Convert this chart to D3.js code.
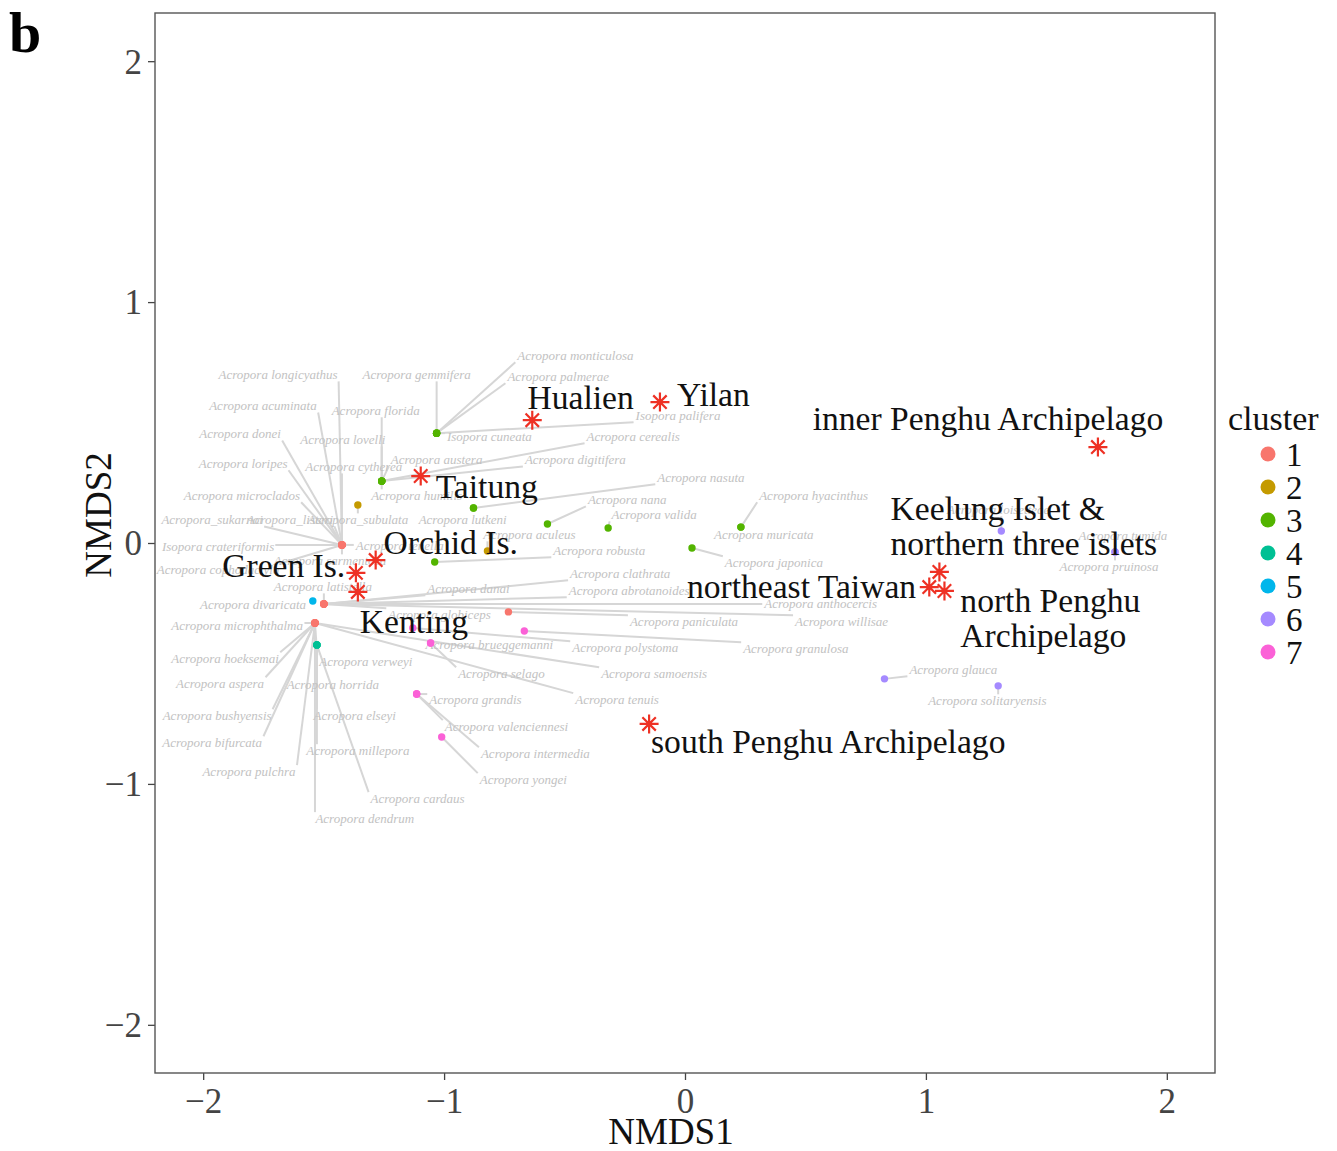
<!DOCTYPE html>
<html><head><meta charset="utf-8">
<script src="https://cdn.jsdelivr.net/npm/d3@7"></script>
<style>body{margin:0;background:#fff}</style>
</head><body><svg id="c" width="1337" height="1151"></svg>
<script>
// ---------- DATA ----------
const clusterIds = ["1","2","3","4","5","6","7"];
const clusterColors = ["#F8766D","#C49A00","#53B400","#00C094","#00B6EB","#A58AFF","#FB61D7"];
const xTicks = [-2,-1,0,1,2];
const yTicks = [-2,-1,0,1,2];

const speciesNames = [
 "Acropora longicyathus","Acropora gemmifera","Acropora monticulosa","Acropora palmerae","Acropora acuminata",
 "Acropora florida","Acropora donei","Acropora lovelli","Isopora cuneata","Acropora cerealis",
 "Acropora loripes","Acropora cytherea","Acropora austera","Acropora digitifera","Acropora nasuta",
 "Acropora microclados","Acropora humilis","Acropora hyacinthus","Acropora nana","Acropora valida",
 "Acropora_sukarnoi","Acropora_listeri","Acropora_subulata","Acropora lutkeni","Isopora crateriformis",
 "Acropora tenella","Acropora aculeus","Acropora muricata","Acropora sarmentosa","Acropora cophodactyla",
 "Acropora robusta","Acropora japonica","Acropora pruinosa","Acropora tumida","Acropora clathrata",
 "Acropora latistella","Acropora danai","Acropora abrotanoides","Acropora anthocercis","Acropora divaricata",
 "Acropora globiceps","Acropora paniculata","Acropora willisae","Acropora microphthalma","Acropora brueggemanni",
 "Acropora polystoma","Acropora granulosa","Acropora hoeksemai","Acropora verweyi","Acropora selago",
 "Acropora samoensis","Acropora glauca","Acropora aspera","Acropora horrida","Acropora grandis",
 "Acropora tenuis","Acropora solitaryensis","Acropora bushyensis","Acropora elseyi","Acropora valenciennesi",
 "Acropora bifurcata","Acropora millepora","Acropora intermedia","Acropora pulchra","Acropora yongei",
 "Acropora cardaus","Acropora dendrum","Isopora palifera","Acropora loisetteae"
];
const speciesCluster = [
 1,3,3,3,1, 3,1,3,3,3, 1,1,3,3,3, 1,3,3,3,3, 1,1,2,3,1, 1,2,3,1,1, 3,3,6,6,1,
 1,1,1,1,5, 1,1,1,1,7, 7,7,1,1,7, 1,6,1,4,7, 1,6,1,4,7, 1,4,7,1,7, 4,1,3,6
];
const speciesX = [
 -1.424,-1.031,-1.031,-1.031,-1.424, -1.259,-1.424,-1.259,-1.031,-1.259,
 -1.424,-1.424,-1.259,-1.259,-0.878, -1.424,-1.259,0.232,-0.571,-0.319,
 -1.424,-1.424,-1.358,-0.878,-1.424, -1.424,-0.820,0.232,-1.424,-1.424,
 -1.039,0.029,1.785,1.785,-1.499, -1.499,-1.499,-1.499,-1.499,-1.545,
 -1.499,-0.733,-1.499,-1.536,-1.056, -1.130,-0.667,-1.536,-1.536,-1.056,
 -1.536,0.828,-1.536,-1.528,-1.114, -1.536,1.300,-1.536,-1.528,-1.114,
 -1.536,-1.528,-1.114,-1.536,-1.010, -1.528,-1.536,-1.031,1.313
];
const speciesY = [
 -0.008,0.456,0.456,0.456,-0.008, 0.257,-0.008,0.257,0.456,0.257,
 -0.008,-0.008,0.257,0.257,0.145, -0.008,0.257,0.066,0.079,0.062,
 -0.008,-0.008,0.158,0.145,-0.008, -0.008,-0.033,0.066,-0.008,-0.008,
 -0.079,-0.021,-0.037,-0.037,-0.253, -0.253,-0.253,-0.253,-0.253,-0.241,
 -0.253,-0.286,-0.253,-0.332,-0.415, -0.353,-0.365,-0.332,-0.332,-0.415,
 -0.332,-0.564,-0.332,-0.423,-0.627, -0.332,-0.593,-0.332,-0.423,-0.627,
 -0.332,-0.423,-0.627,-0.332,-0.805, -0.423,-0.332,0.456,0.050
];
// repelled label centres (NMDS units)
const labelX = [
 -1.689,-1.114,-0.455,-0.526,-1.752, -1.284,-1.847,-1.420,-0.812,-0.215,
 -1.834,-1.375,-1.031,-0.455,0.066, -1.839,-1.114,0.534,-0.240,-0.128,
 -1.963,-1.640,-1.358,-0.923,-1.938, -1.184,-0.646,0.327,-1.474,-1.938,
 -0.356,0.369,1.760,1.818,-0.269, -1.503,-0.899,-0.232,0.563,-1.793,
 -1.019,-0.004,0.650,-1.859,-0.812, -0.248,0.460,-1.909,-1.325,-0.762,
 -0.128,1.114,-1.930,-1.462,-0.870, -0.282,1.255,-1.942,-1.371,-0.741,
 -1.963,-1.358,-0.621,-1.810,-0.671, -1.110,-1.329,-0.029,1.300
];
const labelY = [
 0.697,0.697,0.776,0.689,0.568, 0.548,0.452,0.427,0.440,0.440,
 0.328,0.315,0.344,0.344,0.270, 0.195,0.195,0.195,0.178,0.116,
 0.095,0.095,0.095,0.095,-0.017, -0.012,0.033,0.033,-0.075,-0.112,
 -0.033,-0.083,-0.100,0.029,-0.129, -0.183,-0.191,-0.199,-0.253,-0.257,
 -0.299,-0.328,-0.328,-0.344,-0.423, -0.436,-0.440,-0.481,-0.494,-0.544,
 -0.544,-0.527,-0.585,-0.589,-0.651, -0.651,-0.656,-0.718,-0.718,-0.763,
 -0.830,-0.863,-0.876,-0.950,-0.983, -1.062,-1.145,0.527,0.137
];

const siteNames = ["Hualien","Yilan","inner Penghu Archipelago","Taitung","Orchid Is.","Green Is.","Kenting",
 "south Penghu Archipelago","northeast Taiwan","Keelung Islet &\nnorthern three islets","north Penghu\nArchipelago"];
const siteX = [-0.634,-0.104,1.714,-1.097,-1.284,-1.366,-1.358,-0.149,1.014,1.056,1.077];
const siteY = [0.510,0.585,0.398,0.278,-0.071,-0.124,-0.203,-0.751,-0.183,-0.120,-0.199];
const siteLabelX = [-0.654,-0.033,0.530,-1.035,-1.251,-1.921,-1.350,-0.141,0.008,0.853,1.143];
const siteLabelY = [0.602,0.614,0.515,0.232,0.000,-0.095,-0.328,-0.826,-0.183,0.068,-0.313];

// ---------- CHART ----------
const svg = d3.select("#c");
const P = {l:155, r:1215, t:13, b:1073};
const x = d3.scaleLinear().domain([-2.2,2.2]).range([P.l,P.r]);
const y = d3.scaleLinear().domain([-2.2,2.2]).range([P.b,P.t]);
const color = d3.scaleOrdinal().domain(clusterIds).range(clusterColors);
const serif = "'Liberation Serif','Times New Roman',serif";

svg.append("rect").attr("width",1337).attr("height",1151).attr("fill","#fff");

// axes
const fmt = d=>d<0?"\u2212"+Math.abs(d):String(d);
const xAxis = svg.append("g").attr("transform",`translate(0,${P.b})`)
  .call(d3.axisBottom(x).tickValues(xTicks).tickSize(7).tickPadding(6).tickFormat(fmt));
const yAxis = svg.append("g").attr("transform",`translate(${P.l},0)`)
  .call(d3.axisLeft(y).tickValues(yTicks).tickSize(7).tickPadding(6).tickFormat(fmt));
[xAxis,yAxis].forEach(g=>{
  g.select(".domain").remove();
  g.selectAll(".tick line").attr("stroke","#444").attr("stroke-width",1.3);
  g.selectAll(".tick text").attr("font-family",serif).attr("font-size",35).attr("fill","#444");
});
xAxis.selectAll(".tick text").attr("dy","0.78em");
yAxis.selectAll(".tick text").attr("dy","0.34em");

// panel border
svg.append("rect").attr("x",P.l).attr("y",P.t).attr("width",P.r-P.l).attr("height",P.b-P.t)
  .attr("fill","none").attr("stroke","#555").attr("stroke-width",1.4);

// species labels and segments
const species = speciesNames.map((n,i)=>({name:n,cluster:String(speciesCluster[i]),x:speciesX[i],y:speciesY[i],lx:labelX[i],ly:labelY[i]}));
const segG = svg.append("g");
const labG = svg.append("g");
species.forEach(s=>{
  const t = labG.append("text").attr("x",x(s.lx)).attr("y",y(s.ly)).attr("dy","0.33em")
    .attr("text-anchor","middle").attr("font-family",serif).attr("font-style","italic")
    .attr("font-size",13).attr("fill","#c2c2c2").text(s.name);
  const bb = t.node().getBBox();
  const px = x(s.x), py = y(s.y);
  const x0 = bb.x-1, x1 = bb.x+bb.width+1, y0 = bb.y+1, y1 = bb.y+bb.height-1;
  const cx = Math.max(x0, Math.min(px, x1)), cy = Math.max(y0, Math.min(py, y1));
  const d = Math.hypot(cx-px, cy-py);
  if (d > 6) {
    segG.append("line").attr("x1",px).attr("y1",py).attr("x2",cx).attr("y2",cy)
      .attr("stroke","#d6d6d6").attr("stroke-width",2);
  }
});

// species points
svg.append("g").selectAll("circle").data(species).join("circle")
  .attr("cx",d=>x(d.x)).attr("cy",d=>y(d.y)).attr("r",3.7).attr("fill",d=>color(d.cluster));

// sites
const sites = siteNames.map((n,i)=>({name:n,x:siteX[i],y:siteY[i],lx:siteLabelX[i],ly:siteLabelY[i]}));
const star = r => {
  const a = r*Math.SQRT1_2;
  return `M${-r},0L${r},0M0,${-r}L0,${r}M${-a},${-a}L${a},${a}M${-a},${a}L${a},${-a}`;
};
svg.append("g").selectAll("path").data(sites).join("path")
  .attr("transform",d=>`translate(${x(d.x)},${y(d.y)})`).attr("d",star(9.5))
  .attr("stroke","#EE3124").attr("stroke-width",2.2).attr("fill","none");
sites.forEach(s=>{
  const lines = s.name.split("\n");
  const lh = 35;
  const t = svg.append("text").attr("font-family",serif).attr("font-size",33.6).attr("fill","#111");
  lines.forEach((ln,k)=>{
    t.append("tspan").attr("x",x(s.lx)).attr("y",y(s.ly)+(k-(lines.length-1)/2)*lh).attr("dy","0.33em").text(ln);
  });
});

// axis titles
svg.append("text").attr("x",671).attr("y",1144).attr("text-anchor","middle")
  .attr("font-family",serif).attr("font-size",37).attr("fill","#111").text("NMDS1");
svg.append("text").attr("transform","translate(111,515) rotate(-90)").attr("text-anchor","middle")
  .attr("font-family",serif).attr("font-size",37).attr("fill","#111").text("NMDS2");

// panel tag
svg.append("text").attr("x",9).attr("y",52).attr("font-family",serif).attr("font-weight","bold")
  .attr("font-size",58).attr("fill","#000").text("b");

// legend
const lg = svg.append("g");
lg.append("text").attr("x",1228).attr("y",430).attr("font-family",serif).attr("font-size",34).attr("fill","#111").text("cluster");
clusterIds.forEach((c,i)=>{
  const cy = 454 + i*33;
  lg.append("circle").attr("cx",1268).attr("cy",cy).attr("r",7.5).attr("fill",color(c));
  lg.append("text").attr("x",1286).attr("y",cy).attr("dy","0.36em").attr("font-family",serif)
    .attr("font-size",33).attr("fill","#111").text(c);
});
</script></body></html>
